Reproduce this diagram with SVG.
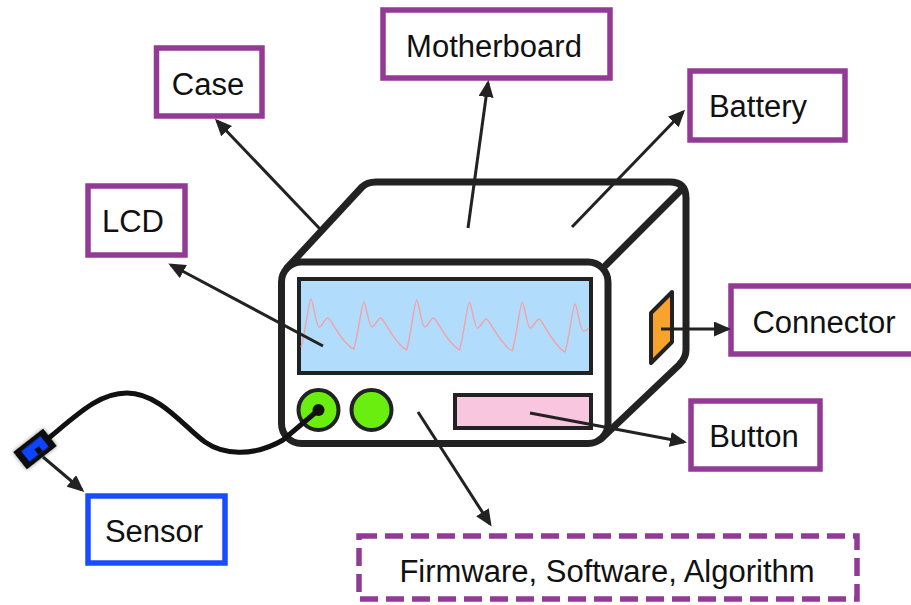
<svg xmlns="http://www.w3.org/2000/svg" width="911" height="605" viewBox="0 0 911 605">
  <style>
    .label { fill: #fff; stroke: #933a96; stroke-width: 5.5; }
    .dashed { stroke-dasharray: 18 8; }
    .blue { stroke: #1a4cff; }
    .txt { font-family: "Liberation Sans", Arial, Helvetica, sans-serif; font-size: 31px; fill: #111; text-anchor: middle; }
    .edge { fill: none; stroke: #222; stroke-width: 7; stroke-linecap: round; stroke-linejoin: round; }
    .part { stroke: #222; stroke-width: 4; }
    .arrow { fill: none; stroke: #222; stroke-width: 3; marker-end: url(#head); }
  </style>
  <defs>
    <marker id="head" markerUnits="userSpaceOnUse" markerWidth="17" markerHeight="15" refX="14" refY="7.5" orient="auto">
      <path d="M0,0 L17,7.5 L0,15 Z" fill="#222"/>
    </marker>
    <filter id="soft" x="-50%" y="-50%" width="200%" height="200%">
      <feGaussianBlur in="SourceAlpha" stdDeviation="2"/>
      <feComponentTransfer><feFuncA type="linear" slope="0.45"/></feComponentTransfer>
      <feMerge><feMergeNode/><feMergeNode in="SourceGraphic"/></feMerge>
    </filter>
  </defs>

  <rect width="911" height="605" fill="#fff"/>

  <!-- device body -->
  <g id="device">
    <path class="edge" fill="#fff" style="fill:#fff" d="M287,268 L362,187 Q367,182 376,182 L670,182 Q686,182 686,198 L686,350 Q686,358 679,365 L601,439 Z"/>
    <rect x="281.5" y="262" width="326.5" height="181.5" rx="20" class="edge" style="fill:#fff"/>
    <line x1="606" y1="265" x2="682" y2="189" class="edge"/>
    <!-- screen -->
    <rect x="299" y="279" width="292" height="94" fill="#b2dcfb" class="part"/>
    <path fill="none" stroke="#f2a2a6" stroke-width="1.4" stroke-linejoin="round"
      d="M301,347 C305,335 309,299 311,299 C313,299 316,327 319,327 C322,327 325,318 328,318 C331,318 341,343 353.8,349
         C357.8,337 361.8,302 363.8,302 C365.8,302 368.8,327 371.8,327 C374.8,327 377.8,318 380.8,318 C383.8,318 393.8,343 406.6,350
         C410.6,338 414.6,300 416.6,300 C418.6,300 421.6,327 424.6,327 C427.6,327 430.6,318 433.6,318 C436.6,318 446.6,343 459.4,350
         C463.4,338 467.4,302 469.4,302 C471.4,302 474.4,328 477.4,328 C480.4,328 483.4,319 486.4,319 C489.4,319 499.4,344 512.2,351
         C516.2,339 520.2,302 522.2,302 C524.2,302 527.2,328 530.2,328 C533.2,328 536.2,319 539.2,319 C542.2,319 552.2,345 565,352
         C569,340 573,304 575,304 C577,304 580,331 583,331 C585,331 587,330 589,328"/>
    <!-- knobs -->
    <circle cx="318.5" cy="410" r="20" fill="#6aee10" class="part"/>
    <circle cx="371.5" cy="410" r="20" fill="#6aee10" class="part"/>
    <!-- button strip -->
    <rect x="455" y="395" width="136" height="33" fill="#f8c6de" class="part"/>
    <!-- side port -->
    <polygon points="651,313 672,292 672,342 651,363" fill="#f7a32e" class="part" stroke-linejoin="round"/>
  </g>

  <!-- sensor and cable -->
  <g id="sensor-probe">
    <path d="M50,437 C80,412 100,393 127,393 C160,393 185,428 205,442 C222,454 252,458 283,440 L318.5,410" fill="none" stroke="#111" stroke-width="5" stroke-linecap="round"/>
    <circle cx="318.5" cy="410" r="6" fill="#111"/>
    <g transform="translate(35,449) rotate(-38)" filter="url(#soft)">
      <rect x="-19" y="-11" width="38" height="22" fill="#111"/>
      <rect x="-12" y="-6.5" width="24" height="13" fill="#1144ff"/>
      <rect x="-1" y="0" width="6" height="6.5" fill="#111"/>
    </g>
  </g>

  <!-- labels -->
  <g id="case"><rect x="156.5" y="48" width="105.5" height="68" class="label"/><text x="208" y="95" class="txt">Case</text></g>
  <g id="motherboard"><rect x="383" y="10" width="227" height="68" class="label"/><text x="494" y="57" class="txt">Motherboard</text></g>
  <g id="battery"><rect x="690" y="71" width="155" height="69" class="label"/><text x="758" y="117" class="txt">Battery</text></g>
  <g id="lcd"><rect x="88" y="186" width="97" height="69" class="label"/><text x="133" y="232" class="txt">LCD</text></g>
  <g id="connector"><rect x="731" y="286" width="185" height="68" class="label"/><text x="824" y="333" class="txt">Connector</text></g>
  <g id="button"><rect x="691" y="401" width="129" height="68" class="label"/><text x="754" y="447" class="txt">Button</text></g>
  <g id="sensor"><rect x="88" y="496" width="137" height="67" class="label blue"/><text x="154" y="542" class="txt">Sensor</text></g>
  <g id="firmware"><rect x="359" y="536" width="498" height="63" class="label dashed"/><text x="607" y="582" class="txt">Firmware, Software, Algorithm</text></g>

  <!-- connectors -->
  <g id="connectors">
    <line x1="320" y1="229" x2="217" y2="121" class="arrow"/>
    <line x1="468" y1="228" x2="488" y2="83" class="arrow"/>
    <line x1="572" y1="227" x2="683" y2="112" class="arrow"/>
    <line x1="323" y1="346" x2="171" y2="265" class="arrow"/>
    <line x1="661" y1="329" x2="728" y2="329" class="arrow"/>
    <line x1="530" y1="413" x2="684" y2="442" class="arrow"/>
    <line x1="418" y1="412" x2="490" y2="524" class="arrow"/>
    <line x1="43" y1="457" x2="82" y2="490" class="arrow"/>
  </g>
</svg>
